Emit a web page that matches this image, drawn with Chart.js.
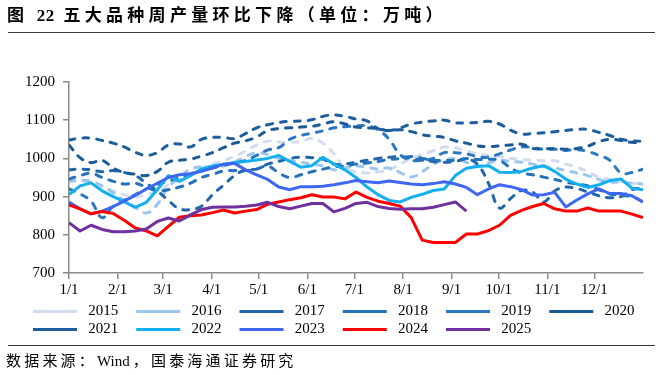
<!DOCTYPE html>
<html>
<head>
<meta charset="utf-8">
<script src="https://cdn.jsdelivr.net/npm/chart.js@4.4.1/dist/chart.umd.min.js"></script>
<style>
  html, body { margin: 0; padding: 0; background: #fff; }
  #wrap { position: relative; width: 662px; height: 375px; overflow: hidden; background: #fff; }
  #chart { position: absolute; left: 0; top: 0; }
  .title {
    position: absolute; left: 7px; top: 4px; white-space: nowrap;
    font: bold 17px "Liberation Serif", "Noto Sans CJK SC", serif;
    letter-spacing: 4.3px; line-height: 24px; color: #000;
  }
  .title .num { letter-spacing: 0.5px; }
  .rule { position: absolute; left: 8px; width: 647px; height: 0; border-top: 1.5px solid #3a3a3a; }
  .source {
    position: absolute; left: 6px; top: 350px; white-space: nowrap;
    font: 15px "Liberation Serif", "Noto Sans CJK SC", serif;
    letter-spacing: 3.2px; line-height: 22px; color: #000;
  }
  .source .latin { letter-spacing: 0; margin-right: 3px; }
</style>
</head>
<body>
<div id="wrap">
  <canvas id="chart" width="662" height="375"></canvas>
  <div class="title">图 <span class="num">22</span> 五大品种周产量环比下降（单位：万吨）</div>
  <div class="rule" style="top:32px"></div>
  <div class="rule" style="top:345px"></div>
  <div class="source">数据来源：<span class="latin">Wind</span>，国泰海通证券研究</div>
</div>
<script>
// x轴：按周编号 0..52，月初刻度（按366天折算）
const weekIdx = Array.from({ length: 53 }, (_, i) => i);
const monthDays = [0, 31, 60, 91, 121, 152, 182, 213, 244, 274, 305, 335];
const monthLabels = ['1/1', '2/1', '3/1', '4/1', '5/1', '6/1', '7/1', '8/1', '9/1', '10/1', '11/1', '12/1'];

const years = ['2015', '2016', '2017', '2018', '2019', '2020', '2021', '2022', '2023', '2024', '2025'];

// 周产量（万吨）
const y2015 = [950,945,935,925,915,905,900,905,915,930,945,960,975,985,995,1005,1020,1035,1045,1043,1042,1045,1052,1040,1012,975,965,962,965,970,985,1000,1010,1020,1030,1028,1020,1012,1008,1005,1000,998,995,994,994,985,977,965,951,945,940,935,935];
const y2016 = [940,942,940,928,910,890,872,857,880,925,950,972,978,977,980,990,1005,1015,1010,1000,995,990,985,980,970,975,980,977,972,975,963,951,965,985,995,1000,990,980,988,995,992,990,985,978,975,968,962,955,945,938,938,935,933];
const y2017 = [970,972,970,965,968,963,955,935,915,890,868,866,875,905,930,955,970,972,985,992,1000,1003,1002,998,985,985,990,995,1000,1003,1005,1000,995,992,990,992,998,985,935,870,895,916,912,886,915,925,921,912,902,897,900,918,922];
const y2018 = [946,955,961,950,940,933,935,925,915,918,925,935,950,958,967,968,968,972,980,962,950,957,965,972,978,980,985,988,992,997,1000,1005,1000,995,995,995,1000,997,998,995,975,962,957,951,945,938,933,928,918,907,903,900,886];
const y2019 = [920,907,888,845,875,890,905,920,932,940,950,958,968,975,982,988,995,1008,1022,1028,1050,1060,1066,1072,1080,1083,1085,1085,1075,1050,1010,995,995,1000,1015,1015,1012,1005,1003,1012,1022,1030,1028,1024,1024,1021,1023,1018,1008,995,962,963,972];
const y2020 = [1035,1002,989,995,975,963,959,955,966,990,995,998,1006,1015,1028,1040,1046,1056,1073,1078,1080,1082,1084,1090,1096,1090,1082,1080,1078,1072,1075,1070,1062,1058,1055,1046,1040,1033,1031,1033,1035,1037,1026,1025,1026,1024,1026,1032,1044,1050,1047,1042,1042];
const y2021 = [1048,1053,1053,1047,1040,1030,1016,1008,1015,1035,1038,1030,1050,1055,1055,1052,1065,1080,1088,1094,1097,1098,1101,1110,1114,1110,1103,1098,1078,1073,1080,1090,1095,1098,1100,1093,1093,1094,1097,1090,1074,1064,1065,1067,1070,1073,1076,1076,1068,1060,1050,1046,1045];
const y2022 = [905,928,936,915,900,887,872,885,918,955,940,955,972,980,985,989,992,996,1000,1008,992,977,981,1003,985,970,950,925,905,890,886,898,906,916,920,955,974,979,981,964,963,966,975,981,966,946,933,924,931,942,946,922,918];
const y2023 = [886,868,855,862,874,888,903,920,935,950,957,960,966,975,985,987,970,957,945,925,918,926,926,927,931,936,942,939,936,941,937,933,931,934,939,933,924,905,920,931,926,918,904,905,911,873,891,907,920,908,908,902,886];
const y2024 = [878,868,855,861,856,838,818,810,797,822,846,850,852,858,865,857,862,866,880,886,892,897,905,899,899,894,912,898,888,882,875,845,786,780,780,780,802,802,811,825,851,864,874,882,868,862,862,870,862,862,862,854,845];
const y2025 = [832,810,825,814,808,808,810,815,835,844,836,852,866,872,873,873,875,878,885,874,868,875,882,882,860,869,882,885,874,869,867,868,868,872,879,886,862];

const yTicks = [700, 800, 900, 1000, 1100, 1200];

const seriesValues = [y2015, y2016, y2017, y2018, y2019, y2020, y2021, y2022, y2023, y2024, y2025];
const seriesColors = ['#D3DCEE', '#9CC6EE', '#1F66AC', '#2372BA', '#2A78C2', '#1A5A96', '#1D5E9E', '#12B0EE', '#3E68F2', '#FF0000', '#7030A0'];
const dashed = [true, true, true, true, true, true, true, false, false, false, false];

const AXIS_GREY = '#8a8a8a';
Chart.defaults.font.family = '"Liberation Serif", "Times New Roman", serif';
Chart.defaults.font.size = 15;
Chart.defaults.color = '#000';

const datasets = years.map((yr, i) => ({
    label: yr,
    data: seriesValues[i],
    borderColor: seriesColors[i],
    backgroundColor: seriesColors[i],
    borderWidth: 3,
    borderDash: dashed[i] ? [6, 8] : [],
    borderCapStyle: dashed[i] ? 'round' : 'butt',
    borderJoinStyle: 'round',
    tension: dashed[i] ? 0.4 : 0,
    pointRadius: 0,
    fill: false,
    order: years.length - i   // 新年份画在上层
}));

// 图例整体右移，与绘图区左侧对齐方式一致
const legendShift = {
    id: 'legendShift',
    afterLayout(chart) {
        chart.legend.left += 10;
        chart.legend.right += 10;
    }
};

const canvasCtx = document.getElementById('chart').getContext('2d');

new Chart(canvasCtx, {
    type: 'line',
    data: { labels: weekIdx, datasets: datasets },
    plugins: [legendShift],
    options: {
        responsive: false,
        animation: false,
        devicePixelRatio: 1,
        layout: { padding: { left: 20, top: 82, right: 0, bottom: 28 } },
        plugins: {
            legend: {
                position: 'bottom',
                align: 'start',
                labels: {
                    usePointStyle: true,
                    pointStyle: 'line',
                    pointStyleWidth: 44,
                    padding: 3,
                    color: '#000',
                    font: { size: 15 },
                    sort: (a, b) => a.datasetIndex - b.datasetIndex,
                    generateLabels: function(chart) {
                        const items = Chart.defaults.plugins.legend.labels.generateLabels(chart);
                        // 留出图例间距
                        return items.map(it => Object.assign(it, { text: ' ' + it.text + '    ' }));
                    }
                }
            },
            tooltip: { enabled: false }
        },
        scales: {
            x: {
                type: 'linear',
                min: 0,
                max: 52,
                afterBuildTicks: function(scale) {
                    scale.ticks = monthDays.map(d => ({ value: d * 52 / 366 }));
                },
                afterFit: function(scale) {
                    scale.paddingRight = 19;
                },
                ticks: {
                    autoSkip: false,
                    maxRotation: 0,
                    padding: 2,
                    color: '#000',
                    font: { size: 15 },
                    callback: function(value, index) {
                        return monthLabels[index];
                    }
                },
                grid: { display: true, drawOnChartArea: false, tickLength: 6, color: AXIS_GREY, lineWidth: 1.5 },
                border: { display: true, color: AXIS_GREY, width: 1.5 }
            },
            y: {
                min: 700,
                max: 1200,
                afterBuildTicks: function(scale) {
                    scale.ticks = yTicks.map(v => ({ value: v }));
                },
                afterFit: function(scale) {
                    scale.width = 49;
                },
                ticks: {
                    padding: 8,
                    color: '#000',
                    font: { size: 15 },
                    callback: function(value) {
                        return String(value);
                    }
                },
                grid: { display: true, drawOnChartArea: false, tickLength: 6, color: AXIS_GREY, lineWidth: 1.5 },
                border: { display: true, color: AXIS_GREY, width: 1.5 }
            }
        }
    }
});
</script>
</body>
</html>
